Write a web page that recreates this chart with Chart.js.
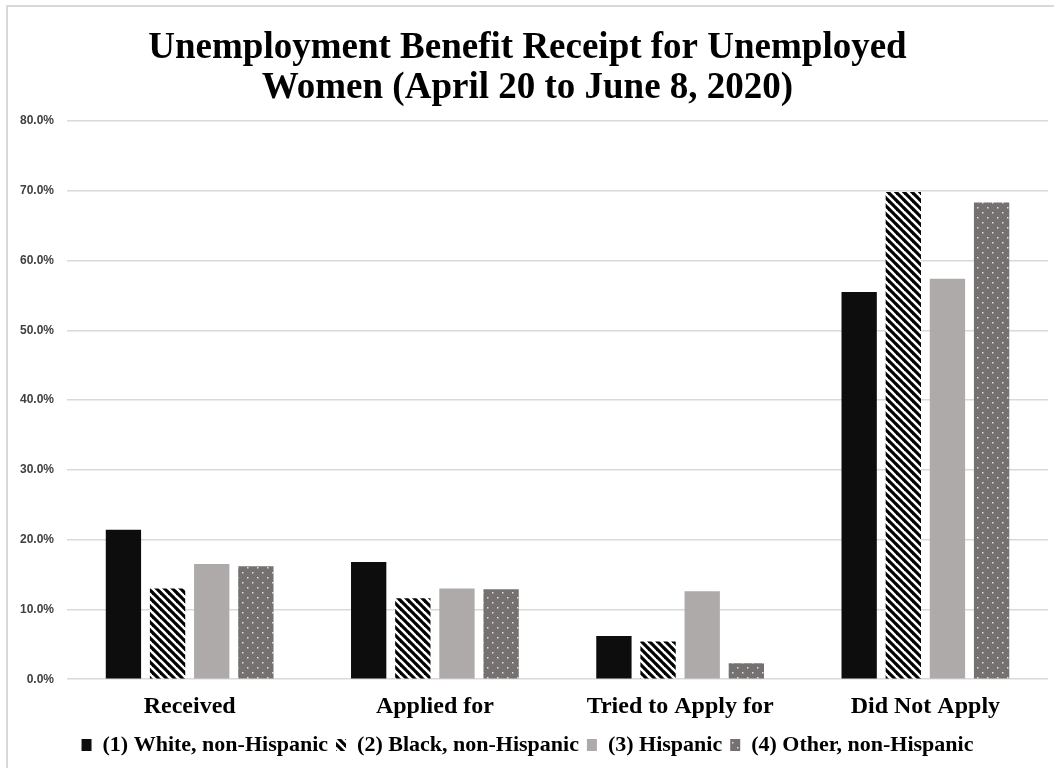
<!DOCTYPE html>
<html>
<head>
<meta charset="utf-8">
<script src="https://cdn.jsdelivr.net/npm/chart.js@4"></script>
<style>
  html, body { margin: 0; padding: 0; background: #fff; }
  #wrap { position: relative; width: 1054px; height: 768px; overflow: hidden; }
  #frame { position: absolute; left: 6px; top: 5px; width: 1100px; height: 800px; border: 2px solid #d9d9d9; box-sizing: border-box; }
  #chart { position: absolute; left: 0; top: 0; }
</style>
</head>
<body>
<div id="wrap">
  <div id="frame"></div>
  <canvas id="chart" width="1054" height="768"></canvas>
</div>
<script>
// values in percent
const categories = ['Received', 'Applied for', 'Tried to Apply for', 'Did Not Apply'];
const whiteNH = [21.4, 16.8, 6.2, 55.5];
const blackNH = [13.0, 11.6, 5.4, 69.8];
const hispanic = [16.5, 13.0, 12.6, 57.4];
const otherNH = [16.2, 12.9, 2.3, 68.3];
const seriesNames = ['(1) White, non-Hispanic', '(2) Black, non-Hispanic', '(3) Hispanic', '(4) Other, non-Hispanic'];
const yTicks = [0, 10, 20, 30, 40, 50, 60, 70, 80];

const serif = "'Liberation Serif', 'Times New Roman', serif";
const sans = "'Liberation Sans', Arial, sans-serif";

function stripePattern() {
  const c = document.createElement('canvas');
  c.width = 8; c.height = 8;
  const g = c.getContext('2d');
  g.fillStyle = '#fff';
  g.fillRect(0, 0, 8, 8);
  g.strokeStyle = '#000';
  g.lineWidth = 3.2;
  for (let k = -1; k <= 1; k++) {
    g.beginPath();
    g.moveTo(k * 8 - 1, -1);
    g.lineTo(k * 8 + 9, 9);
    g.stroke();
  }
  return g.createPattern(c, 'repeat');
}

function dotPattern() {
  const c = document.createElement('canvas');
  c.width = 10; c.height = 10;
  const g = c.getContext('2d');
  g.fillStyle = '#767171';
  g.fillRect(0, 0, 10, 10);
  g.fillStyle = '#e0e0e0';
  g.fillRect(2, 2, 1.5, 1.5);
  g.fillRect(7, 7, 1.5, 1.5);
  return g.createPattern(c, 'repeat');
}

const colors = ['#0d0d0d', stripePattern(), '#aeaaaa', dotPattern()];
const values = [whiteNH, blackNH, hispanic, otherNH];

const cfg = {
  type: 'bar',
  data: {
    labels: categories,
    datasets: values.map((v, i) => ({
      label: seriesNames[i],
      data: v,
      backgroundColor: colors[i],
      borderWidth: 0,
      categoryPercentage: 0.72,
      barPercentage: 0.8,
    }))
  },
  options: {
    responsive: false,
    animation: false,
    layout: { padding: { left: 7, right: 6, top: 22, bottom: 2 } },
    plugins: {
      title: {
        display: true,
        text: ['Unemployment Benefit Receipt for Unemployed', 'Women (April 20 to June 8, 2020)'],
        color: '#000',
        font: { family: serif, size: 37, weight: 'bold', lineHeight: 1.08 },
        padding: { top: 6, bottom: 13 }
      },
      legend: {
        position: 'bottom',
        labels: {
          color: '#000',
          font: { family: serif, size: 22, weight: 'bold' },
          boxWidth: 10, boxHeight: 12, padding: 8,
        }
      },
      tooltip: { enabled: false }
    },
    scales: {
      x: {
        grid: { display: false },
        border: { display: false },
        ticks: {
          color: '#000',
          font: { family: serif, size: 24, weight: 'bold' },
          padding: 5,
        }
      },
      y: {
        min: 0, max: 80,
        afterBuildTicks: axis => { axis.ticks = yTicks.map(v => ({ value: v })); },
        grid: { color: '#d9d9d9', lineWidth: 1.5, drawTicks: false },
        border: { display: false },
        ticks: {
          color: '#404040',
          font: { family: sans, size: 12, weight: 'bold' },
          padding: 13,
          callback: v => v.toFixed(1) + '%',
        }
      }
    }
  }
};

new Chart(document.getElementById('chart'), cfg);
</script>
</body>
</html>
